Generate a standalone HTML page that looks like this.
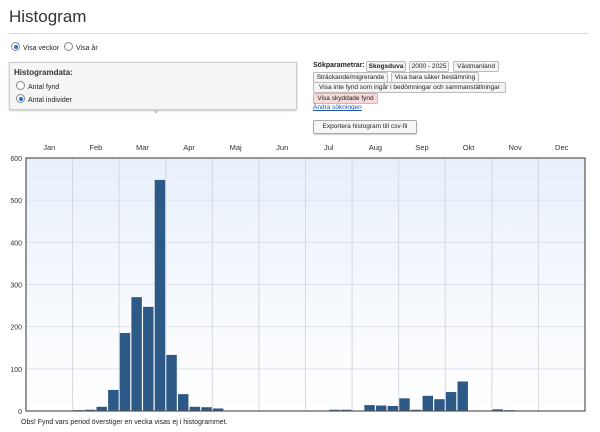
<!DOCTYPE html>
<html><head><meta charset="utf-8"><style>
body{margin:0;width:600px;height:432px;overflow:hidden;background:#fff;font-family:"Liberation Sans",Arial,sans-serif;color:#222;position:relative}
.a{position:absolute;white-space:nowrap}
.tag{position:absolute;font-size:6.5px;border:1px solid #bbb;border-radius:2px;background:#f4f4f4;line-height:9px;height:9px;text-align:center;overflow:hidden;box-sizing:content-box}
.radio{display:inline-block;width:7px;height:7px;border:1px solid #888;border-radius:50%;vertical-align:-1px;margin-right:3px;background:#fff;position:relative}
.radio.on::after{content:"";position:absolute;left:1.5px;top:1.5px;width:4px;height:4px;border-radius:50%;background:#1e6fd9}
</style></head><body>
<div class="a" style="left:9px;top:7px;font-size:17px;color:#333">Histogram</div>
<div class="a" style="left:9px;top:33px;width:580px;height:1px;background:#ddd"></div>
<div class="a" style="left:11px;top:42px;font-size:7px"><span class="radio on"></span>Visa veckor <span class="radio" style="margin-left:3px"></span>Visa år</div>
<div class="a" style="left:9px;top:62px;width:286px;height:46px;border:1px solid #ccc;background:#f5f5f5;box-shadow:0 1px 2px #ccc"></div>
<div class="a" style="left:14px;top:68px;font-size:8px;font-weight:bold;color:#333">Histogramdata:</div>
<div class="a" style="left:16px;top:81px;font-size:7px"><span class="radio"></span>Antal fynd</div>
<div class="a" style="left:16px;top:94px;font-size:7px"><span class="radio on"></span>Antal individer</div>
<div class="a" style="left:152px;top:109px;width:0;height:0;border-left:4px solid transparent;border-right:4px solid transparent;border-top:5px solid #ccc"></div>
<div class="a" style="left:313px;top:62px;font-size:7px;font-weight:bold">Sökparametrar:</div>
<div class="tag" style="left:366px;top:61px;width:38px;font-weight:bold">Skogsduva</div>
<div class="tag" style="left:409px;top:61px;width:38px">2000 - 2025</div>
<div class="tag" style="left:453px;top:61px;width:44px">Västmanland</div>
<div class="tag" style="left:313px;top:72px;width:73px">Sträckande/migrerande</div>
<div class="tag" style="left:391px;top:72px;width:86px">Visa bara säker bestämning</div>
<div class="tag" style="left:313px;top:82px;width:191px">Visa inte fynd som ingår i bedömningar och sammanställningar</div>
<div class="tag" style="left:313px;top:93px;width:63px;background:#f8dada;border-color:#e0b0b0">Visa skyddade fynd</div>
<div class="a" style="left:313px;top:104px;font-size:6.5px;color:#1a56b0;text-decoration:underline">Ändra sökningen</div>
<div class="a" style="left:313px;top:120px;width:102px;height:12px;line-height:12px;text-align:center;font-size:6.5px;border:1px solid #aaa;border-radius:2px;background:#f6f6f6;box-shadow:0 1px 1px #ccc">Exportera histogram till csv-fil</div>
<svg id="chart" class="a" style="left:0;top:135px" width="600" height="285"></svg>
<div class="a" style="left:21px;top:419px;font-size:7px">Obs! Fynd vars period överstiger en vecka visas ej i histogrammet.</div>
<script>
const months=["Jan","Feb","Mar","Apr","Maj","Jun","Jul","Aug","Sep","Okt","Nov","Dec"];
const yTicks=[0,100,200,300,400,500,600];
const weekValues=[0,0,0,0,2,3,10,50,185,270,247,548,133,40,10,9,6,1,0,0,1,0,0,0,0,0,3,3,0,14,13,12,30,3,36,28,45,70,0,0,4,2,0,0,0,0,0,0];
const NS="http://www.w3.org/2000/svg";
const svg=document.getElementById('chart');
const X0=26,X1=585,Y0=276,Y1=23,YMAX=600;
const xs=i=>X0+(X1-X0)*i/weekValues.length;
const ys=v=>Y0-(Y0-Y1)*v/YMAX;
function mk(t,a){const e=document.createElementNS(NS,t);for(const k in a)e.setAttribute(k,a[k]);svg.appendChild(e);return e;}
const defs=mk('defs',{});
defs.innerHTML='<linearGradient id="bg" x1="0" y1="0" x2="0" y2="1"><stop offset="0" stop-color="#e9f0fb"/><stop offset="1" stop-color="#ffffff"/></linearGradient>';
const bg=mk('rect',{x:X0,y:Y1,width:X1-X0,height:Y0-Y1,fill:'url(#bg)'});


yTicks.forEach(v=>{
  const l=mk('line',{x1:X0,x2:X1,y1:ys(v),y2:ys(v),stroke:'#dde2ea','stroke-width':1});
  
  
  const t=mk('text',{x:X0-4,y:ys(v)+3,'text-anchor':'end','font-size':7,fill:'#333'});
  t.textContent=v;
  
  
});
months.forEach((m,i)=>{
  const x=X0+(X1-X0)*i/12;
  if(i>0){const l=mk('line',{x1:x,x2:x,y1:Y1,y2:Y0,stroke:'#d4d8e0','stroke-width':1});
  
  }
  const t=mk('text',{x:x+(X1-X0)/24,y:15,'text-anchor':'middle','font-size':7.5,fill:'#333'});
  t.textContent=m;
  
  
});
weekValues.forEach((v,i)=>{
  if(v<=0)return;
  const r=mk('rect',{x:xs(i)+0.6,y:ys(v),width:xs(i+1)-xs(i)-1.2,height:Math.max(Y0-ys(v),0.8),fill:'#2d5987'});
  
  
});
const fr=mk('rect',{x:X0,y:Y1,width:X1-X0,height:Y0-Y1,fill:'none',stroke:'#555','stroke-width':1.2});


</script>
</body></html>
